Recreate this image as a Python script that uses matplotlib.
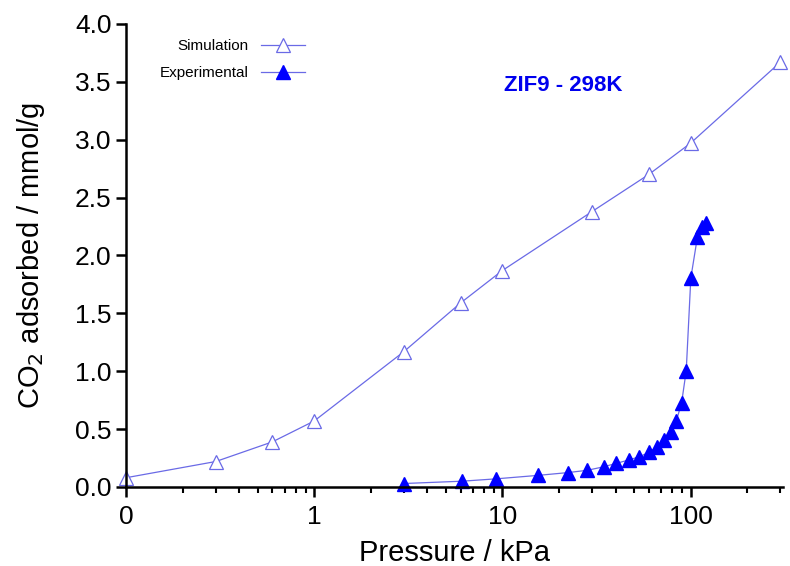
import numpy as np
import matplotlib.pyplot as plt
from matplotlib.ticker import FixedLocator, FixedFormatter, LogLocator, NullFormatter

plt.rcParams['font.family'] = ['Liberation Sans', 'DejaVu Sans']

# Simulation (GCMC) isotherm
sim_p = [0.1, 0.3, 0.6, 1, 3, 6, 10, 30, 60, 100, 300]
sim_q = [0.08, 0.22, 0.39, 0.57, 1.17, 1.59, 1.87, 2.38, 2.70, 2.97, 3.67]

# Experimental isotherm
exp_p = [3.0, 6.1, 9.2, 15.4, 22.2, 28.2, 34.7, 40.4, 47, 53.5, 60.4, 66.4,
         72.6, 78.7, 84, 89.6, 94.9, 100.4, 108.9, 115.8, 120.5]
exp_q = [0.03, 0.05, 0.07, 0.10, 0.124, 0.144, 0.175, 0.205, 0.233, 0.262,
         0.30, 0.348, 0.406, 0.472, 0.57, 0.723, 1.005, 1.806, 2.163, 2.25, 2.284]

xticks = [0.1, 1, 10, 100]
xticklabels = ["0", "1", "10", "100"]

line_col = '#6a6ae6'

fig = plt.figure(figsize=(7.9, 5.66), dpi=100)
ax = fig.add_axes([0.1595, 0.1396, 0.8316, 0.818])

ax.plot(sim_p, sim_q, color=line_col, lw=0.9, marker='^', ms=10,
        mfc='white', mec=line_col, mew=0.9, label='Simulation', clip_on=False)
ax.plot(exp_p, exp_q, color=line_col, lw=0.9, marker='^', ms=10,
        mfc='#0000ff', mec='#0000ff', label='Experimental', clip_on=False)

ax.set_xscale('log')
ax.set_xlim(0.1, 310)
ax.set_ylim(0, 4.0)
ax.xaxis.set_major_locator(FixedLocator(xticks))
ax.xaxis.set_major_formatter(FixedFormatter(xticklabels))
ax.xaxis.set_minor_locator(LogLocator(base=10, subs=np.arange(2, 10)))
ax.xaxis.set_minor_formatter(NullFormatter())
ax.set_yticks(np.arange(0, 4.01, 0.5))
ax.yaxis.set_major_formatter(plt.FuncFormatter(lambda v, p: f"{v:.1f}"))

for s in ['top', 'right']:
    ax.spines[s].set_visible(False)
for s in ['left', 'bottom']:
    ax.spines[s].set_linewidth(1.8)
ax.tick_params(which='major', direction='out', length=7, width=1.8, labelsize=19)
ax.tick_params(which='minor', direction='out', length=4, width=1.5)
ax.tick_params(axis='x', pad=6)

ax.set_xlabel("Pressure / kPa", fontsize=21, labelpad=7)
ax.set_ylabel("CO$_2$ adsorbed / mmol/g", fontsize=21, labelpad=20)

ax.text(0.665, 0.868, "ZIF9 - 298K", transform=ax.transAxes, color='#0000ee',
        fontsize=16, fontweight='bold', ha='center', va='center')

ax.legend(loc='upper left', bbox_to_anchor=(0.03, 0.997), frameon=False,
          markerfirst=False, fontsize=11, handlelength=2.9, labelspacing=0.85)

fig.savefig("out.png", dpi=100)
